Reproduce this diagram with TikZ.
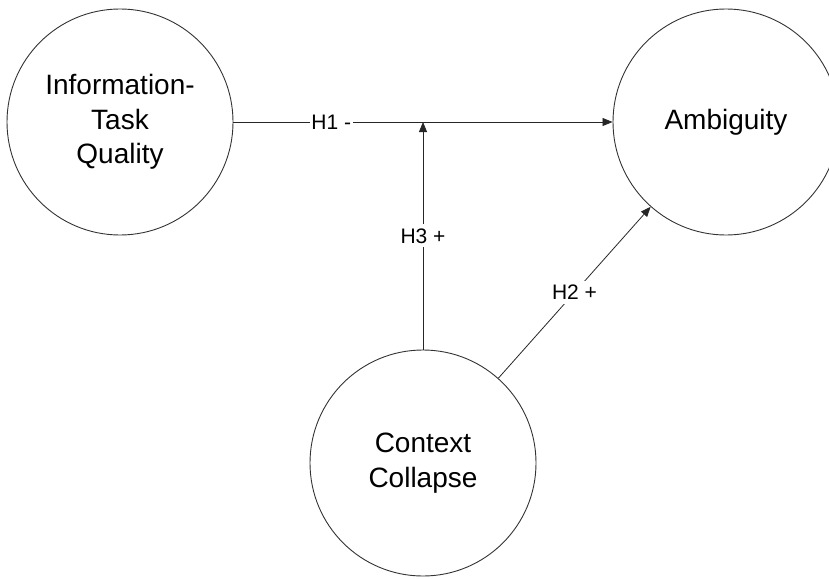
\documentclass[tikz,border=0pt]{standalone}
\usepackage{fontspec}
\setmainfont{Liberation Sans}
\usetikzlibrary{arrows.meta}
\begin{document}
\begin{tikzpicture}[x=1pt,y=-1pt,
  construct/.style={draw=black!80, circle, line width=0.9pt, minimum size=226pt, inner sep=0pt,
    align=center, font=\fontsize{28}{34.5}\selectfont},
  link/.style={draw=black!85, line width=0.8pt},
  arr/.style={link, -{Triangle[length=10pt,width=8pt]}},
  lbl/.style={fill=white, font=\fontsize{21}{25}\selectfont, inner xsep=1.5pt, inner ysep=4pt}]
\useasboundingbox (0,0) rectangle (829,578);
\node[construct] (itq) at (120,122) {Information-\\Task\\Quality};
\node[construct] (amb) at (726,122) {Ambiguity};
\node[construct] (cc)  at (423,463) {Context\\Collapse};
\coordinate (junc) at (423,122);
\draw[arr] (itq.east) -- node[lbl, pos=0.258] {H1 -} (amb.west);
\draw[arr] (cc.north) -- node[lbl, midway] {H3 +} (junc);
\draw[arr] (cc) -- node[lbl, midway] {H2 +} (amb);
\end{tikzpicture}
\end{document}
